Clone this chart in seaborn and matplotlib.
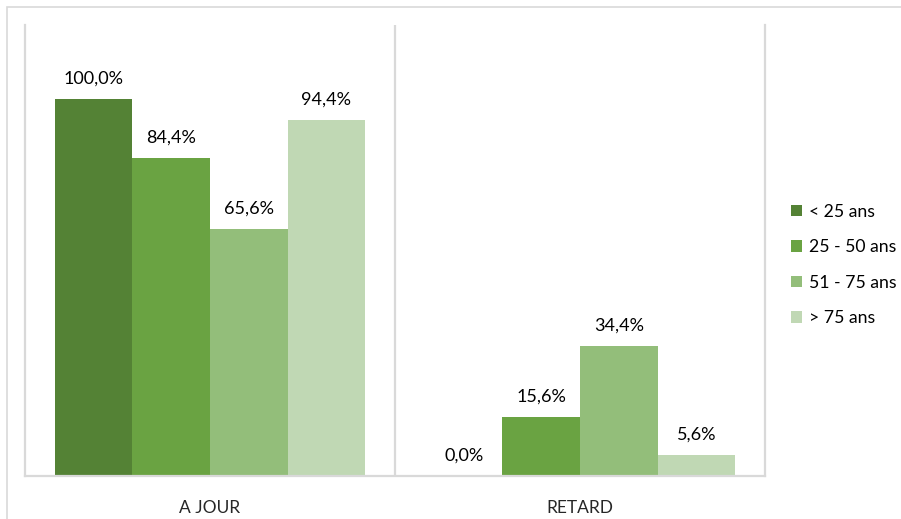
#!/usr/bin/env python3

import matplotlib
matplotlib.use("Agg")
import matplotlib.pyplot as plt
from matplotlib.patches import Rectangle
import pandas as pd
import seaborn as sns

categories = ["A JOUR", "RETARD"]
age_groups = ["< 25 ans", "25 - 50 ans", "51 - 75 ans", "> 75 ans"]
a_jour = [100.0, 84.4, 65.6, 94.4]
retard = [0.0, 15.6, 34.4, 5.6]

colors = ["#548235", "#6AA342", "#93BE7A", "#C0D8B4"]
grid_gray = "#D9D9D9"


def configure_seaborn():
  sns.set_style("white")
  plt.rcParams['font.family'] = ['Lato', 'DejaVu Sans']
  plt.rcParams['text.color'] = '#000000'


def build_frame():
  rows = []
  for cat, vals in zip(categories, [a_jour, retard]):
    for grp, v in zip(age_groups, vals):
      rows.append({'categorie': cat, 'age': grp, 'pct': v})
  return pd.DataFrame(rows)


def main():
  configure_seaborn()
  df = build_frame()

  fig = plt.figure(figsize=(9.01, 5.19), dpi=100)
  W, H = 901, 519
  ax = fig.add_axes([25 / W, (H - 476) / H, 740 / W, 451 / H])

  sns.barplot(data=df, x='categorie', y='pct', hue='age', order=categories,
              hue_order=age_groups, palette=colors, width=0.838,
              saturation=1, ax=ax, legend=True, errorbar=None,
              linewidth=0, edgecolor='none')

  for cont in ax.containers:
    labels = [("%.1f%%" % b.get_height()).replace('.', ',') for b in cont]
    ax.bar_label(cont, labels=labels, padding=9, fontsize=13)

  ax.set_ylim(0, 119.6)
  ax.set_xlim(-0.5, 1.5)
  ax.set_xlabel("")
  ax.set_ylabel("")
  ax.set_yticks([])
  ax.tick_params(axis='x', length=0, pad=17, labelsize=12.5)

  ax.axvline(0.5, color=grid_gray, lw=1.6)
  for side in ['left', 'right', 'bottom']:
    ax.spines[side].set_color(grid_gray)
    ax.spines[side].set_linewidth(1.6)
  ax.spines['top'].set_visible(False)

  leg = ax.legend(loc='center left', frameon=False, fontsize=12.7,
                  handlelength=0.62, handleheight=0.62,
                  handletextpad=0.4, labelspacing=1.1)
  leg.set_bbox_to_anchor((775 / W, (H - 265) / H), transform=fig.transFigure)

  fig.patches.append(Rectangle((7 / W, -0.1), 1.2, (H - 7) / H + 0.1,
                               transform=fig.transFigure, fill=False,
                               edgecolor=grid_gray, lw=1.2))

  fig.savefig("out.png", dpi=100)
  plt.close(fig)


if __name__ == '__main__':
  main()
